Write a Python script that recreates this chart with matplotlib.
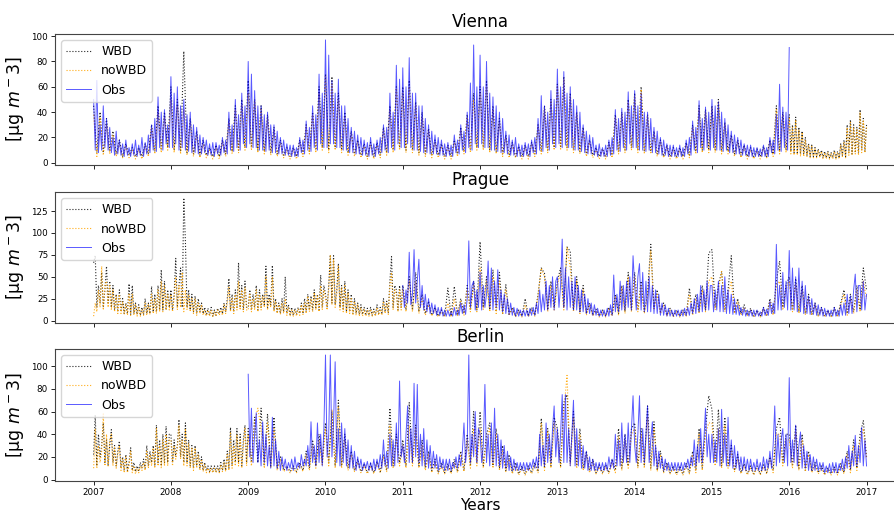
import numpy as np
import matplotlib
matplotlib.use("Agg")
import matplotlib.pyplot as plt

# ---------------- data (estimates, one row per year) ----------------
cities = ["Vienna", "Prague", "Berlin"]
year_ticks = [2007, 2008, 2009, 2010, 2011, 2012, 2013, 2014, 2015, 2016, 2017]
series_labels = ["WBD", "noWBD", "Obs"]

vienna_start = {"WBD": 2007, "noWBD": 2007, "Obs": 2007}
vienna_wbd = [
    [45, 8, 40, 8, 35, 10, 25, 7, 18, 5, 15, 6, 12, 5, 12, 5, 15, 7, 30, 9, 45, 10, 40, 12],
    [60, 10, 50, 9, 88, 8, 35, 7, 25, 6, 18, 6, 12, 5, 14, 5, 18, 7, 35, 9, 45, 10, 50, 12],
    [65, 12, 50, 10, 45, 9, 38, 8, 28, 7, 18, 6, 12, 5, 12, 5, 18, 7, 30, 9, 40, 10, 60, 12],
    [70, 10, 68, 12, 55, 10, 40, 8, 25, 7, 18, 6, 15, 5, 16, 5, 16, 6, 28, 8, 45, 10, 60, 12],
    [60, 10, 65, 10, 48, 8, 40, 7, 27, 6, 18, 6, 15, 5, 14, 5, 18, 7, 28, 9, 38, 10, 55, 12],
    [60, 12, 65, 10, 45, 9, 35, 7, 22, 6, 16, 5, 13, 5, 14, 5, 16, 7, 30, 9, 45, 10, 50, 12],
    [62, 12, 68, 12, 55, 10, 40, 9, 28, 7, 18, 6, 12, 5, 11, 5, 16, 6, 38, 9, 40, 10, 50, 12],
    [55, 10, 60, 9, 38, 9, 25, 7, 18, 5, 14, 5, 12, 5, 12, 5, 16, 6, 30, 9, 45, 10, 42, 10],
    [45, 10, 50, 9, 32, 9, 22, 7, 18, 6, 14, 5, 12, 5, 11, 5, 13, 5, 18, 7, 45, 9, 40, 10],
    [38, 9, 30, 8, 36, 8, 28, 7, 25, 7, 20, 6, 15, 5, 14, 5, 12, 5, 11, 5, 10, 4, 9, 4,
     9, 4, 8, 4, 10, 4, 9, 4, 15, 6, 18, 5, 30, 8, 34, 7, 30, 9, 28, 8, 42, 10, 35, 9],
    [30],
]
vienna_nowbd = [
    [38, 5, 36, 6, 30, 7, 22, 5, 15, 4, 13, 4, 10, 3, 10, 3, 13, 5, 28, 7, 40, 8, 36, 10],
    [50, 8, 45, 7, 42, 6, 32, 5, 22, 4, 15, 4, 10, 3, 12, 3, 16, 5, 32, 7, 42, 8, 46, 10],
    [55, 10, 48, 8, 42, 7, 35, 6, 25, 5, 15, 4, 10, 3, 10, 3, 16, 5, 28, 7, 38, 8, 55, 10],
    [68, 8, 62, 10, 50, 8, 36, 6, 22, 5, 16, 4, 13, 3, 14, 3, 14, 4, 26, 6, 42, 8, 58, 10],
    [55, 8, 60, 8, 45, 6, 36, 5, 25, 4, 16, 4, 13, 3, 12, 3, 16, 5, 26, 7, 36, 8, 50, 10],
    [55, 10, 60, 8, 42, 7, 32, 5, 20, 4, 14, 4, 11, 3, 12, 3, 14, 5, 28, 7, 42, 8, 48, 10],
    [60, 10, 66, 10, 52, 8, 38, 7, 26, 5, 16, 4, 10, 3, 10, 3, 14, 4, 36, 7, 38, 8, 48, 10],
    [52, 8, 58, 7, 36, 7, 23, 5, 16, 4, 12, 3, 10, 3, 10, 3, 14, 4, 28, 7, 42, 8, 40, 8],
    [43, 8, 48, 7, 30, 7, 20, 5, 16, 4, 12, 3, 10, 3, 9, 3, 11, 4, 17, 5, 42, 7, 38, 8],
    [36, 7, 28, 6, 34, 6, 26, 5, 24, 5, 18, 5, 14, 4, 13, 4, 11, 4, 10, 4, 9, 3, 8, 3,
     8, 3, 7, 3, 9, 3, 8, 3, 14, 5, 16, 4, 28, 6, 32, 6, 28, 7, 26, 6, 40, 8, 33, 8],
    [28],
]
vienna_obs = [
    [50, 10, 65, 8, 30, 10, 45, 12, 35, 10, 28, 8, 20, 6, 25, 7, 18, 6, 15, 5, 18, 6, 12, 5,
     15, 6, 18, 5, 14, 6, 20, 5, 16, 7, 22, 8, 30, 10, 35, 9, 52, 12, 40, 10, 42, 15, 30, 12],
    [68, 12, 55, 15, 60, 10, 45, 12, 50, 10, 38, 9, 40, 8, 30, 8, 28, 7, 22, 7, 20, 8, 18, 6,
     15, 6, 16, 5, 16, 7, 14, 6, 20, 8, 18, 7, 40, 10, 30, 9, 50, 12, 38, 10, 55, 15, 45, 12],
    [80, 15, 70, 12, 57, 12, 45, 10, 45, 10, 38, 9, 40, 10, 30, 8, 30, 8, 25, 7, 20, 7, 18, 6,
     15, 6, 14, 5, 14, 5, 12, 5, 20, 8, 18, 7, 33, 10, 28, 9, 45, 12, 38, 10, 70, 15, 55, 12],
    [97, 12, 85, 15, 65, 15, 55, 12, 66, 12, 45, 10, 45, 10, 35, 8, 28, 8, 25, 7, 22, 7, 20, 6,
     18, 6, 16, 5, 20, 6, 15, 5, 18, 7, 20, 8, 30, 10, 28, 8, 55, 12, 40, 10, 77, 15, 66, 12],
    [75, 12, 60, 15, 83, 12, 55, 10, 55, 10, 45, 9, 45, 8, 35, 8, 30, 7, 25, 7, 22, 7, 20, 6,
     18, 6, 15, 5, 16, 6, 14, 5, 22, 8, 18, 7, 30, 10, 25, 8, 40, 12, 63, 10, 93, 15, 60, 12],
    [85, 15, 60, 12, 80, 12, 55, 10, 52, 10, 45, 9, 40, 8, 35, 8, 25, 7, 22, 6, 18, 6, 20, 5,
     15, 5, 14, 5, 16, 6, 15, 5, 18, 8, 20, 7, 35, 10, 53, 9, 45, 12, 40, 10, 57, 15, 50, 12],
    [74, 15, 60, 12, 72, 14, 55, 12, 60, 12, 50, 10, 45, 10, 40, 9, 30, 8, 25, 7, 22, 7, 20, 6,
     14, 5, 15, 5, 12, 5, 14, 5, 18, 6, 20, 7, 42, 10, 35, 9, 43, 12, 40, 10, 56, 15, 45, 12],
    [57, 12, 45, 10, 55, 10, 40, 9, 40, 10, 35, 8, 28, 8, 25, 7, 20, 6, 18, 6, 15, 5, 14, 5,
     14, 5, 12, 5, 14, 5, 12, 5, 18, 7, 20, 6, 33, 10, 28, 8, 49, 12, 35, 10, 44, 12, 40, 10],
    [50, 12, 45, 10, 48, 10, 40, 9, 35, 10, 30, 8, 25, 8, 22, 7, 20, 7, 18, 6, 15, 6, 14, 5,
     14, 5, 12, 5, 12, 5, 11, 5, 14, 5, 12, 5, 20, 8, 18, 7, 38, 10, 62, 9, 44, 12, 40, 10],
    [91],
]

prague_start = {"WBD": 2007, "noWBD": 2007, "Obs": 2011}
prague_wbd = [
    [66, 74, 15, 40, 20, 55, 15, 35, 62, 20, 45, 15, 40, 12, 30, 10, 35, 10, 25, 8, 20, 8, 42, 7,
     40, 8, 20, 7, 18, 6, 15, 7, 25, 8, 20, 8, 39, 10, 30, 10, 40, 12, 58, 12, 45, 12, 35, 15],
    [35, 12, 30, 71, 15, 40, 60, 15, 140, 90, 15, 35, 12, 30, 10, 28, 8, 25, 10, 20, 8, 15, 6, 14,
     6, 15, 5, 12, 6, 14, 8, 15, 8, 20, 10, 25, 48, 12, 30, 10, 35, 15, 66, 15, 40, 12, 45, 15],
    [15, 35, 12, 30, 15, 40, 12, 35, 15, 30, 18, 62, 15, 30, 18, 63, 12, 25, 10, 20, 8, 25, 10, 50,
     8, 18, 7, 15, 6, 14, 7, 15, 8, 20, 8, 25, 10, 30, 12, 28, 12, 35, 15, 30, 12, 52, 15, 40],
    [30, 15, 40, 75, 20, 74, 18, 35, 65, 15, 40, 12, 45, 10, 35, 10, 30, 8, 25, 8, 20, 7, 18, 7,
     15, 6, 14, 6, 15, 6, 13, 6, 18, 8, 15, 7, 25, 10, 22, 9, 45, 73, 15, 40, 35, 12, 40, 15],
    [40, 12, 50, 12, 55, 10, 30, 8, 22, 6, 15, 5, 12, 5, 37, 5, 39, 6, 25, 8, 40, 12, 45, 12],
    [90, 15, 50, 12, 58, 10, 55, 8, 41, 7, 15, 5, 12, 5, 25, 5, 15, 6, 30, 60, 54, 12, 45, 15],
    [45, 60, 15, 84, 79, 12, 50, 10, 40, 8, 20, 6, 13, 5, 12, 5, 15, 6, 30, 8, 40, 10, 55, 12],
    [55, 12, 45, 10, 30, 87, 15, 35, 10, 20, 6, 14, 5, 12, 5, 12, 6, 37, 8, 30, 10, 40, 12, 77],
    [81, 15, 40, 56, 12, 35, 74, 10, 25, 8, 18, 6, 14, 5, 12, 5, 15, 6, 25, 8, 45, 68, 15, 40],
    [50, 12, 48, 10, 40, 8, 30, 7, 20, 6, 15, 5, 12, 5, 15, 5, 20, 35, 8, 30, 10, 40, 12, 60],
    [35],
]
prague_nowbd = [
    [5, 20, 10, 35, 15, 62, 12, 40, 45, 15, 40, 12, 35, 10, 28, 8, 30, 8, 22, 7, 18, 6, 30, 6,
     30, 6, 18, 5, 15, 5, 12, 6, 20, 6, 18, 7, 30, 8, 25, 8, 35, 10, 45, 10, 40, 12, 30, 12],
    [30, 10, 25, 50, 12, 40, 15, 55, 10, 35, 12, 30, 10, 25, 8, 25, 6, 20, 8, 18, 6, 12, 5, 12,
     5, 12, 4, 10, 5, 12, 6, 12, 6, 18, 8, 20, 38, 10, 25, 8, 30, 12, 45, 12, 35, 10, 38, 12],
    [12, 30, 10, 25, 12, 35, 10, 30, 12, 28, 15, 50, 12, 25, 15, 50, 10, 22, 8, 18, 7, 20, 8, 25,
     6, 15, 5, 12, 5, 12, 5, 13, 6, 18, 7, 20, 8, 28, 10, 25, 10, 32, 12, 28, 10, 40, 12, 35],
    [25, 12, 35, 75, 18, 70, 15, 30, 62, 12, 38, 10, 40, 8, 32, 8, 25, 6, 22, 6, 18, 5, 15, 5,
     13, 5, 12, 5, 13, 5, 11, 5, 15, 6, 13, 6, 22, 8, 20, 7, 40, 55, 12, 35, 30, 10, 35, 12],
    [35, 10, 45, 10, 45, 8, 25, 6, 18, 5, 12, 4, 10, 4, 20, 4, 25, 5, 22, 6, 35, 10, 40, 10],
    [60, 12, 45, 10, 50, 8, 45, 7, 35, 6, 13, 4, 10, 4, 18, 4, 13, 5, 28, 60, 50, 10, 40, 12],
    [40, 55, 12, 84, 60, 10, 45, 8, 35, 6, 18, 5, 11, 4, 10, 4, 13, 5, 28, 6, 38, 8, 50, 10],
    [50, 10, 40, 8, 28, 80, 12, 30, 8, 18, 5, 12, 4, 10, 4, 10, 5, 30, 6, 25, 8, 35, 10, 45],
    [50, 12, 35, 56, 10, 30, 45, 8, 22, 6, 15, 5, 12, 4, 10, 4, 13, 5, 22, 6, 40, 45, 12, 35],
    [45, 10, 42, 8, 35, 7, 25, 6, 18, 5, 13, 4, 10, 4, 13, 4, 18, 30, 6, 25, 8, 35, 10, 45],
    [25],
]
prague_obs = [
    [40, 15, 35, 20, 78, 18, 30, 81, 20, 45, 70, 15, 40, 12, 30, 10, 25, 8, 20, 8, 18, 6, 15, 6,
     15, 5, 12, 5, 12, 5, 10, 5, 15, 6, 12, 6, 20, 8, 18, 7, 25, 91, 15, 40, 45, 12, 35, 15],
    [55, 12, 40, 15, 30, 68, 15, 60, 12, 45, 15, 58, 12, 35, 10, 30, 8, 25, 7, 20, 6, 15, 5, 14,
     5, 12, 5, 12, 5, 12, 5, 14, 6, 15, 6, 20, 8, 35, 10, 30, 12, 45, 12, 40, 15, 50, 12, 45],
    [50, 15, 40, 93, 15, 60, 12, 50, 15, 45, 12, 50, 12, 40, 10, 35, 10, 30, 8, 25, 8, 20, 6, 18,
     6, 14, 5, 12, 5, 12, 5, 14, 5, 18, 6, 52, 10, 30, 10, 45, 12, 40, 12, 45, 15, 50, 12, 74],
    [40, 12, 50, 65, 12, 55, 10, 45, 10, 50, 10, 40, 8, 35, 8, 30, 6, 20, 6, 18, 5, 14, 5, 12,
     5, 12, 5, 12, 5, 12, 5, 14, 6, 15, 6, 20, 8, 25, 8, 30, 10, 40, 10, 35, 12, 45, 12, 40],
    [40, 10, 35, 12, 45, 10, 40, 10, 50, 8, 35, 8, 30, 7, 25, 7, 18, 6, 15, 6, 14, 5, 12, 5,
     12, 5, 12, 5, 12, 5, 10, 5, 15, 6, 13, 6, 22, 8, 20, 8, 87, 12, 40, 12, 55, 15, 45, 12],
    [80, 12, 60, 12, 50, 10, 60, 10, 45, 8, 40, 8, 28, 7, 25, 7, 20, 6, 18, 6, 15, 5, 14, 5,
     12, 5, 12, 5, 15, 5, 12, 5, 18, 6, 20, 6, 30, 8, 28, 8, 35, 53, 10, 40, 40, 12, 45, 12],
    [30],
]

berlin_start = {"WBD": 2007, "noWBD": 2007, "Obs": 2009}
berlin_wbd = [
    [22, 57, 12, 40, 20, 30, 50, 15, 35, 12, 30, 44, 15, 30, 12, 25, 34, 10, 20, 8, 22, 8, 15, 28,
     8, 15, 7, 12, 8, 15, 10, 18, 10, 30, 12, 25, 15, 30, 12, 48, 15, 35, 12, 40, 15, 47, 15, 40],
    [40, 15, 35, 20, 30, 53, 20, 40, 15, 50, 15, 35, 12, 30, 10, 30, 12, 25, 10, 20, 8, 15, 8, 12,
     7, 12, 7, 12, 7, 12, 7, 15, 8, 18, 8, 25, 10, 46, 12, 35, 15, 45, 15, 40, 12, 35, 48, 15],
    [45, 15, 55, 15, 63, 12, 58, 12, 55, 10, 20, 8, 12, 7, 12, 7, 15, 8, 25, 10, 35, 12, 40, 15],
    [50, 15, 60, 12, 70, 12, 40, 10, 25, 8, 18, 7, 14, 6, 14, 6, 16, 7, 22, 8, 63, 12, 40, 15],
    [35, 12, 68, 15, 48, 12, 35, 10, 25, 8, 18, 6, 15, 6, 14, 6, 18, 7, 25, 8, 40, 12, 60, 15],
    [60, 12, 40, 50, 12, 45, 10, 30, 8, 22, 6, 15, 5, 12, 5, 12, 6, 15, 7, 54, 10, 45, 12, 55],
    [45, 12, 68, 75, 15, 60, 12, 45, 10, 25, 8, 18, 6, 13, 6, 13, 6, 18, 8, 45, 10, 40, 12, 45],
    [50, 12, 45, 12, 65, 10, 51, 8, 25, 7, 15, 6, 12, 5, 12, 5, 14, 6, 25, 8, 45, 10, 45, 74],
    [62, 15, 62, 12, 55, 12, 30, 8, 22, 6, 14, 5, 12, 5, 12, 5, 13, 6, 20, 8, 45, 55, 15, 40],
    [40, 12, 48, 10, 40, 8, 25, 7, 15, 6, 12, 5, 10, 5, 11, 5, 14, 6, 25, 8, 35, 10, 40, 52],
    [20],
]
berlin_nowbd = [
    [10, 45, 10, 30, 15, 25, 58, 12, 40, 12, 35, 40, 12, 28, 10, 22, 30, 8, 18, 6, 20, 6, 12, 25,
     6, 12, 5, 10, 6, 12, 8, 15, 8, 25, 10, 22, 12, 28, 10, 45, 12, 30, 10, 35, 12, 40, 12, 35],
    [35, 12, 30, 18, 28, 48, 18, 35, 12, 45, 12, 32, 10, 28, 8, 28, 10, 22, 8, 18, 7, 13, 6, 10,
     6, 10, 6, 10, 6, 10, 6, 13, 7, 15, 7, 22, 8, 42, 10, 30, 12, 40, 12, 35, 10, 30, 45, 12],
    [40, 12, 50, 63, 45, 10, 50, 10, 45, 8, 18, 7, 10, 6, 10, 6, 13, 7, 22, 8, 30, 10, 35, 12],
    [45, 12, 62, 10, 65, 10, 35, 8, 22, 7, 15, 6, 12, 5, 12, 5, 14, 6, 20, 7, 48, 10, 35, 12],
    [30, 10, 48, 12, 45, 10, 30, 8, 22, 6, 15, 5, 12, 5, 12, 5, 15, 6, 22, 7, 35, 10, 45, 12],
    [45, 10, 35, 45, 10, 40, 8, 25, 7, 18, 5, 12, 4, 10, 4, 10, 5, 13, 6, 50, 8, 42, 10, 50],
    [40, 10, 60, 92, 12, 55, 10, 40, 8, 22, 6, 15, 5, 11, 5, 11, 5, 15, 6, 38, 8, 35, 10, 40],
    [45, 10, 40, 10, 55, 8, 45, 7, 22, 6, 13, 5, 10, 4, 10, 4, 12, 5, 22, 6, 40, 8, 40, 50],
    [50, 12, 45, 10, 48, 10, 25, 7, 18, 5, 12, 4, 10, 4, 10, 4, 11, 5, 18, 6, 40, 40, 12, 35],
    [35, 10, 42, 8, 35, 7, 22, 6, 13, 5, 10, 4, 9, 4, 10, 4, 12, 5, 22, 6, 30, 8, 35, 45],
    [18],
]
berlin_obs = [
    [93, 20, 63, 15, 40, 59, 15, 35, 12, 51, 15, 40, 12, 30, 10, 55, 12, 35, 10, 25, 8, 20, 10, 18,
     8, 15, 10, 18, 8, 20, 10, 15, 10, 22, 12, 18, 12, 30, 12, 51, 15, 30, 12, 50, 15, 40, 12, 45],
    [110, 20, 40, 110, 20, 50, 104, 15, 45, 12, 50, 15, 45, 12, 35, 10, 30, 10, 25, 8, 20, 10, 18, 8,
     15, 10, 16, 8, 15, 8, 18, 8, 18, 10, 22, 10, 35, 12, 25, 10, 40, 12, 35, 12, 50, 15, 87, 20],
    [30, 15, 40, 65, 15, 45, 15, 85, 20, 84, 15, 40, 12, 45, 12, 35, 10, 30, 10, 25, 10, 22, 8, 20,
     10, 18, 8, 18, 8, 18, 8, 15, 10, 20, 10, 22, 12, 25, 50, 15, 30, 110, 15, 40, 20, 60, 15, 45],
    [40, 15, 30, 84, 15, 40, 12, 50, 15, 63, 12, 40, 12, 35, 10, 30, 10, 25, 8, 20, 8, 18, 8, 15,
     8, 15, 8, 15, 8, 15, 8, 15, 10, 18, 10, 20, 10, 40, 12, 30, 12, 50, 15, 40, 15, 45, 65, 20],
    [45, 15, 40, 75, 15, 75, 15, 45, 12, 40, 70, 12, 45, 12, 35, 10, 30, 10, 25, 8, 20, 8, 18, 8,
     15, 8, 15, 8, 15, 8, 15, 8, 20, 10, 18, 10, 40, 12, 35, 12, 50, 15, 40, 15, 50, 15, 45, 74],
    [30, 15, 40, 74, 15, 45, 15, 40, 65, 15, 35, 51, 12, 30, 10, 25, 10, 20, 8, 18, 8, 15, 8, 15,
     8, 15, 8, 15, 8, 15, 8, 15, 10, 18, 10, 20, 12, 35, 12, 30, 15, 45, 15, 35, 63, 20, 40, 15],
    [40, 15, 35, 15, 45, 12, 62, 15, 40, 12, 55, 12, 35, 10, 30, 10, 25, 8, 20, 8, 20, 8, 18, 8,
     18, 8, 15, 8, 18, 8, 15, 8, 20, 8, 18, 10, 25, 10, 30, 65, 12, 40, 15, 35, 45, 15, 40, 12],
    [90, 15, 35, 15, 48, 12, 30, 42, 10, 30, 10, 25, 8, 22, 8, 20, 8, 18, 8, 15, 8, 15, 6, 12,
     6, 14, 6, 15, 6, 15, 6, 14, 8, 18, 8, 20, 10, 30, 10, 25, 12, 39, 12, 30, 15, 46, 12, 35],
    [12],
]

panel_data = {
    "Vienna": (vienna_start, {"WBD": vienna_wbd, "noWBD": vienna_nowbd, "Obs": vienna_obs}),
    "Prague": (prague_start, {"WBD": prague_wbd, "noWBD": prague_nowbd, "Obs": prague_obs}),
    "Berlin": (berlin_start, {"WBD": berlin_wbd, "noWBD": berlin_nowbd, "Obs": berlin_obs}),
}


def to_series(start, rows):
    t, v = [], []
    for k, row in enumerate(rows):
        n = len(row) if len(row) > 1 else 24
        for j, val in enumerate(row):
            t.append(start + k + j / n)
            v.append(val)
    return np.array(t), np.array(v, dtype=float)


styles = {
    "WBD": dict(color="black", linestyle=":", linewidth=0.8, alpha=0.85),
    "noWBD": dict(color="orange", linestyle=":", linewidth=0.8, alpha=0.9),
    "Obs": dict(color="blue", linestyle="-", linewidth=0.7, alpha=0.65),
}

fig = plt.figure(figsize=(8.94, 5.13), dpi=100)
positions = [
    [0.0615, 0.6784, 0.951, 0.2554],
    [0.0615, 0.3704, 0.951, 0.2553],
    [0.0615, 0.0624, 0.951, 0.2573],
]

for i, city in enumerate(cities):
    ax = fig.add_axes(positions[i])
    starts, sdict = panel_data[city]
    for lab in series_labels:
        t, v = to_series(starts[lab], sdict[lab])
        ax.plot(t, v, label=lab, **styles[lab])
    ax.set_xlim(2006.5, 2017.5)
    ax.set_title(city, fontsize=12, pad=5)
    ax.set_ylabel(r"[μg $m^-3$]", fontsize=12.5)
    ax.set_xticks(year_ticks)
    ax.tick_params(axis="both", labelsize=6.3, length=3, width=0.6, pad=2)
    if i < 2:
        ax.set_xticklabels([])
    for sp in ax.spines.values():
        sp.set_color("#444444")
        sp.set_linewidth(0.8)
    ax.legend(loc="upper left", fontsize=9, framealpha=0.8)

bottom_ax = fig.axes[-1]
bottom_ax.set_xlabel("Years", fontsize=11)
bottom_ax.xaxis.set_label_coords(0.5, -0.13)
fig.savefig("out.png", dpi=100)
